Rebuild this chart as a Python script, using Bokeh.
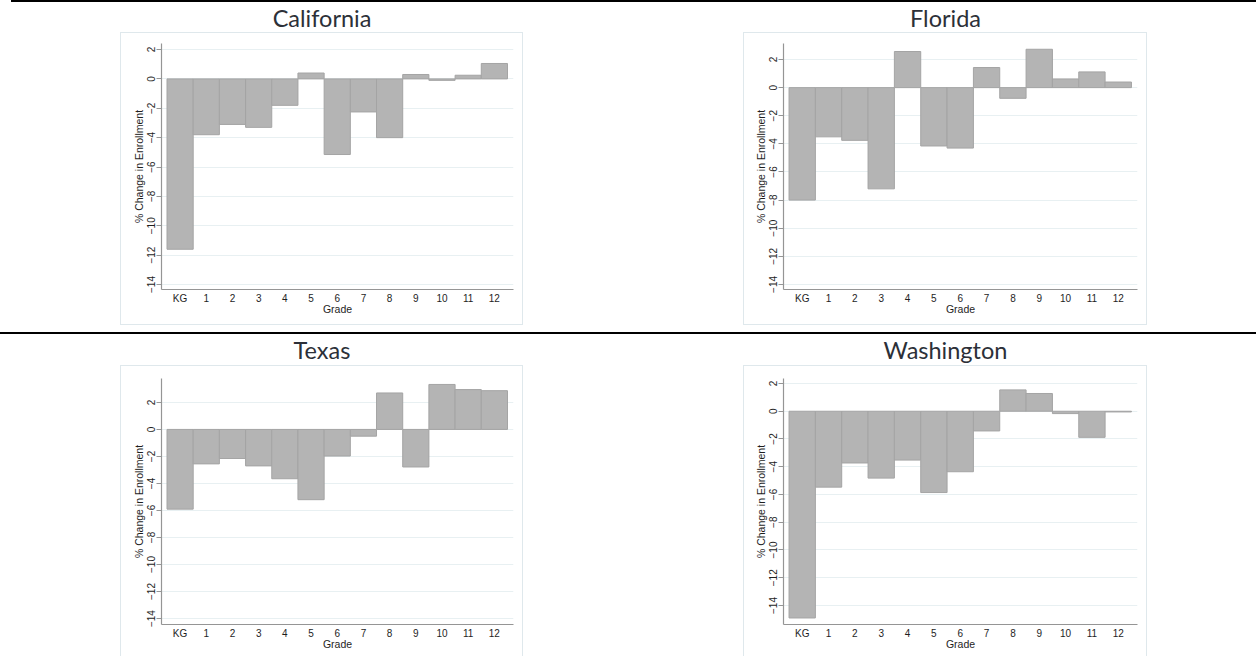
import numpy as np
from bokeh.core.properties import value
from bokeh.embed import file_html
from bokeh.layouts import column, row
from bokeh.models import ColumnDataSource, FixedTicker, Range1d, Spacer
from bokeh.plotting import figure
from bokeh.resources import INLINE

# % change in enrollment by grade
grades = ["KG", "1", "2", "3", "4", "5", "6", "7", "8", "9", "10", "11", "12"]
california = [-11.6, -3.8, -3.1, -3.3, -1.8, 0.4, -5.15, -2.25, -4.0, 0.3, -0.1, 0.25, 1.05]
florida = [-8.0, -3.5, -3.75, -7.2, 2.57, -4.15, -4.3, 1.43, -0.76, 2.73, 0.62, 1.12, 0.4]
texas = [-5.9, -2.55, -2.15, -2.7, -3.65, -5.2, -1.97, -0.5, 2.7, -2.78, 3.33, 2.95, 2.87]
washington = [-14.9, -5.47, -3.73, -4.82, -3.52, -5.86, -4.36, -1.42, 1.54, 1.28, -0.17, -1.88, -0.05]
y_ticks = [-14, -12, -10, -8, -6, -4, -2, 0, 2]

BAR_FILL = "#b4b4b4"
BAR_LINE = "#a4a4a4"
GRID = "#e8f0f2"
AXIS = "#959595"
FRAME = "#dfe8ec"
TXT = "#1e1e1e"
FONT = "Liberation Sans"


def make_title(name, width, height, center):
    """Text-only figure holding the state name (center = px from its top)."""
    t = figure(width=width, height=height, x_range=Range1d(0, 1), y_range=Range1d(0, height),
               x_axis_type=None, y_axis_type=None, title_location=None,
               toolbar_location=None, output_backend="svg", min_border=0)
    t.grid.visible = False
    t.outline_line_color = None
    t.border_fill_color = None
    t.background_fill_color = None
    t.text(x=[0.5], y=[height - center], text=[name], text_align="center",
           text_baseline="middle", text_font=value("Lato"),
           text_font_size=value("23.5px"), text_color="#2c3038")
    return t


def rule(width, height=2):
    return Spacer(width=width, height=height, styles={"background-color": "black"})


def make_chart(values, y_lim, width, height, borders, open_bottom=False):
    """Stata-like bar chart of one state, canvas = graph region."""
    top, bottom, left, right = borders
    p = figure(width=width, height=height, x_range=Range1d(-0.71, 12.73),
               y_range=Range1d(*y_lim), toolbar_location=None, output_backend="svg",
               title_location=None,
               min_border_top=top, min_border_bottom=bottom,
               min_border_left=left, min_border_right=right)
    p.outline_line_color = None
    p.background_fill_color = "white"
    p.border_fill_color = None
    if open_bottom:
        shadow = f"inset 1px 1px 0 0 {FRAME}, inset -1px 0 0 0 {FRAME}"
    else:
        shadow = f"inset 0 0 0 1px {FRAME}"
    p.styles = {"box-shadow": shadow}

    src = ColumnDataSource(data=dict(x=np.arange(len(grades)), val=values))
    p.vbar(x="x", top="val", bottom=0, width=1.0, source=src,
           fill_color=BAR_FILL, line_color=BAR_LINE, line_width=1)

    p.xgrid.visible = False
    p.ygrid.grid_line_color = GRID
    p.ygrid.grid_line_width = 1

    xa = p.xaxis[0]
    xa.ticker = FixedTicker(ticks=list(range(len(grades))))
    xa.major_label_overrides = {i: g for i, g in enumerate(grades)}
    xa.major_tick_out = 0
    xa.major_tick_in = 0
    xa.minor_tick_out = 0
    xa.major_label_standoff = 3
    xa.axis_label = "Grade"
    xa.axis_label_standoff = -4

    ya = p.yaxis[0]
    ya.ticker = FixedTicker(ticks=y_ticks)
    ya.major_label_orientation = "vertical"
    ya.major_tick_out = 5
    ya.major_tick_in = 0
    ya.minor_tick_out = 0
    ya.major_label_standoff = 1
    ya.axis_label = "% Change in Enrollment"
    ya.axis_label_standoff = 0

    for ax in (xa, ya):
        ax.axis_line_color = AXIS
        ax.axis_line_width = 1.2
        ax.major_tick_line_color = AXIS
        ax.major_label_text_font = FONT
        ax.major_label_text_font_size = "10px"
        ax.major_label_text_color = TXT
        ax.axis_label_text_font = FONT
        ax.axis_label_text_font_size = "10.5px"
        ax.axis_label_text_font_style = "normal"
        ax.axis_label_text_color = TXT
    return p


def band(left_item, right_item, height):
    """One horizontal band: left cell at x=120, right cell at x=743."""
    return row(Spacer(width=120, height=height), left_item,
               Spacer(width=220, height=height), right_item,
               Spacer(width=109, height=height))


ca = make_chart(california, (-14.34, 2.41), 403, 293, (11, 36, 41, 10))
fl = make_chart(florida, (-14.36, 3.14), 404, 293, (11, 36, 40, 10))
tx = make_chart(texas, (-14.44, 3.77), 403, 291, (12, 32, 41, 10), open_bottom=True)
wa = make_chart(washington, (-15.37, 2.36), 404, 291, (13, 32, 40, 10), open_bottom=True)

layout = column(
    row(Spacer(width=11, height=2), rule(1245)),
    band(make_title("California", 403, 30, 15.7), make_title("Florida", 404, 30, 15.7), 30),
    band(ca, fl, 293),
    Spacer(width=1256, height=7),
    rule(1256),
    band(make_title("Texas", 403, 31, 15.3), make_title("Washington", 404, 31, 15.3), 31),
    band(tx, wa, 291),
)

open("out.html", "w").write(file_html(layout, INLINE))
